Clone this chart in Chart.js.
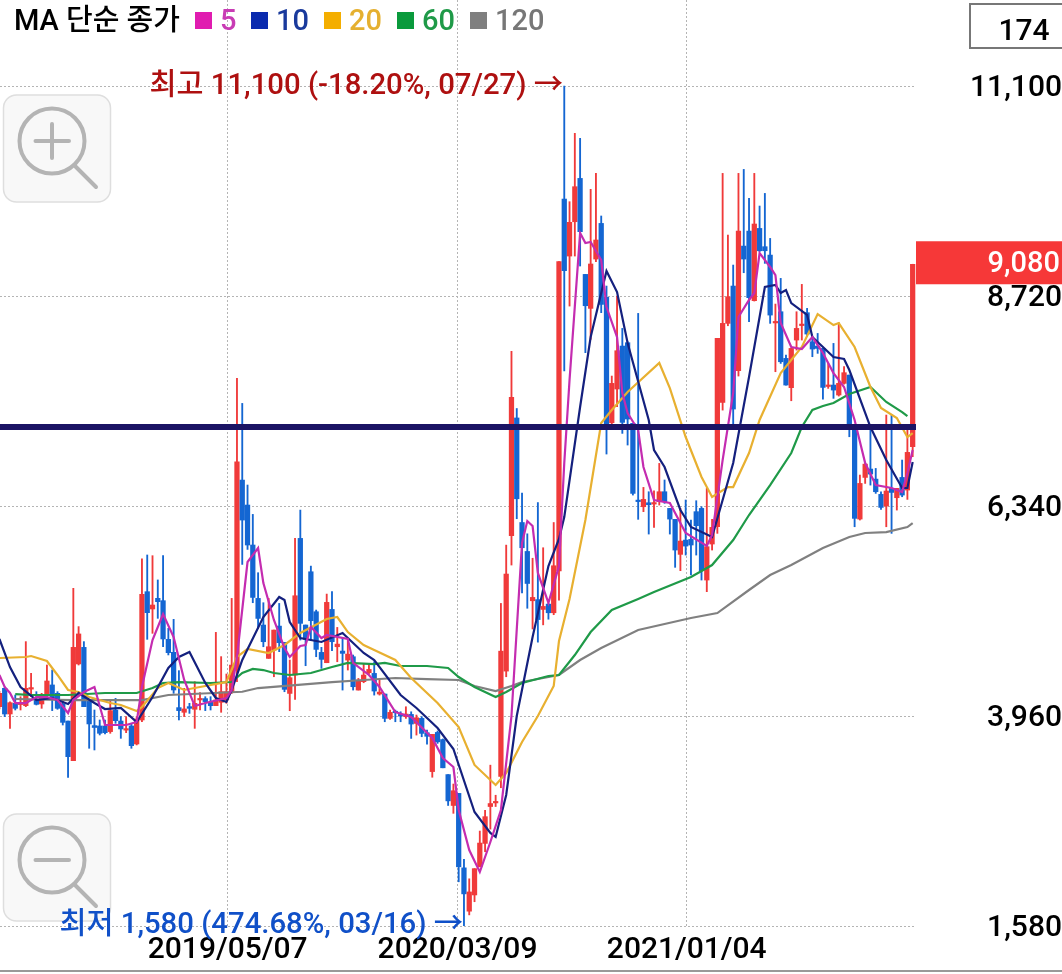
<!DOCTYPE html>
<html lang="ko">
<head>
<meta charset="utf-8">
<title>MA 단순 종가</title>
<script src="https://cdn.jsdelivr.net/npm/chart.js@4/dist/chart.umd.min.js"></script>
<style>
    html, body { margin: 0; padding: 0; background: #fff; }
    canvas { display: block; }
</style>
</head>
<body>
<canvas id="priceChart" width="1062" height="974"></canvas>
<script>
// Price ticks and date ticks
var priceTicks = [1580, 3960, 6340, 8720, 11100];
var dateLabels = ['2019/05/07', '2020/03/09', '2021/01/04'];
var datePositions = [43.24, 86.78, 130.2];

// Candles, index 0 to 173
var opens = [
    4066, 4274, 3983, 4104, 4090, 4077, 4265, 4142, 4096, 4198, 4312, 4217, 4096, 3903, 3454, 4550, 4738, 4142, 3851, 3847,
    3847, 3783, 4028, 3903, 3800, 3847, 3643, 3915, 5369, 5173, 5294, 5267, 4829, 4682, 4055, 4002, 4066, 4036, 4142, 4157,
    4115, 4077, 4115, 4142, 4235, 4481, 6634, 6351, 5898, 5293, 4991, 4613, 4707, 4979, 4794, 4216, 4424, 5973, 4991, 5595,
    5142, 4681, 4564, 5168, 4745, 4696, 4594, 4632, 4254, 4349, 4451, 4443, 4209, 4209, 3933, 4008, 3978, 3952, 3978, 3876,
    3933, 3770, 3330, 3774, 3693, 3296, 2946, 3083, 2239, 1748, 1932, 2251, 2516, 2934, 2975, 3275, 4469, 6004, 7338, 6153,
    5825, 5266, 5279, 5168, 5228, 5130, 5603, 9819, 9173, 9562, 10053, 8965, 8580, 9139, 9543, 8705, 7284, 7666, 8153, 8191,
    7277, 6400, 6332, 6377, 6362, 6389, 6502, 6313, 6189, 5792, 5954, 5962, 6276, 6313, 5501, 5909, 6105, 7514, 8410, 8833,
    7873, 9286, 9456, 8667, 9486, 9279, 9184, 8415, 8542, 8013, 7681, 8221, 8385, 8531, 8202, 8153, 8126, 7695, 7711, 7598,
    7730, 7824, 7208, 6192, 6664, 6759, 6645, 6472, 6340, 6540, 6434, 6664, 6521, 7012
];
var highs = [
    4240, 4290, 4120, 4198, 4179, 4803, 4444, 4236, 4217, 4538, 4482, 4236, 4142, 3903, 5407, 4973, 4803, 4150, 4028, 3915,
    3915, 4142, 4160, 3953, 3953, 3877, 3953, 5740, 5785, 5777, 5502, 5777, 4954, 5056, 4474, 4274, 4104, 4349, 4225, 4179,
    4179, 4908, 4633, 4436, 5293, 7787, 7503, 6578, 6245, 5584, 5244, 5293, 4934, 5236, 4794, 4594, 5973, 6294, 4991, 5659,
    5161, 4738, 5342, 5369, 4964, 4840, 4840, 4651, 4386, 4556, 4556, 4575, 4367, 4209, 4027, 4027, 4008, 4065, 4008, 3971,
    3952, 3800, 3752, 3790, 3700, 3296, 3189, 3083, 2337, 2115, 2230, 2656, 2891, 3403, 3062, 5236, 5897, 8093, 7445, 6486,
    6025, 5748, 6379, 5867, 5236, 6153, 9109, 11100, 9789, 10564, 10507, 8965, 9929, 10110, 9627, 8833, 7813, 8720, 8353, 8202,
    7277, 8523, 6551, 6502, 6513, 6823, 6635, 6313, 6189, 6313, 6408, 6181, 6400, 6332, 6540, 6189, 8240, 10110, 9411, 9071,
    10110, 10155, 9827, 10110, 9740, 9883, 9373, 8629, 8920, 8051, 8126, 8542, 8852, 8580, 8259, 8296, 8126, 7956, 8183, 8417,
    7919, 7824, 7208, 6691, 6823, 7220, 6766, 6502, 7371, 7371, 6540, 6861, 7239, 9080
];
var lows = [
    4040, 3953, 3820, 4028, 4028, 4066, 4179, 4085, 4047, 4179, 4021, 4036, 3858, 3265, 3454, 4538, 4066, 3594, 3575, 3745,
    3756, 3764, 3877, 3707, 3771, 3594, 3632, 3896, 4829, 4897, 5067, 4746, 4652, 4217, 3915, 3953, 3990, 3820, 4028, 4021,
    4028, 4077, 4002, 4104, 4216, 4349, 5678, 5848, 5244, 4953, 4745, 4613, 4405, 4689, 4235, 4020, 4148, 4821, 4530, 4821,
    4632, 4500, 4564, 4700, 4575, 4254, 4481, 4254, 4254, 4337, 4435, 4197, 4197, 3895, 3922, 3895, 3895, 3933, 3706, 3744,
    3725, 3640, 3266, 3650, 3373, 2946, 2857, 2081, 1580, 1706, 1855, 2251, 2422, 2678, 2934, 3147, 4405, 5671, 6196, 5356,
    5181, 4946, 4797, 4993, 5057, 5108, 5274, 7870, 8606, 9173, 9060, 8078, 8229, 9109, 8531, 6929, 7258, 7466, 7163, 7031,
    6464, 6189, 6276, 6022, 6098, 6351, 6370, 6022, 5645, 5607, 5784, 5558, 5784, 5501, 5369, 5841, 6030, 7427, 8383, 7239,
    7813, 8984, 8429, 8663, 9222, 9090, 8410, 7862, 7956, 7711, 7533, 8107, 8221, 8259, 8032, 8070, 7552, 7673, 7560, 7586,
    7722, 7125, 6105, 6181, 6596, 6577, 6483, 6302, 6105, 6030, 6294, 6445, 6415, 6899
];
var closes = [
    4217, 3983, 4111, 4047, 4104, 4274, 4274, 4092, 4198, 4357, 4160, 4047, 3888, 3499, 4738, 4890, 4066, 3870, 3830, 3764,
    3771, 4021, 3907, 3813, 3809, 3624, 3926, 5339, 5131, 5218, 5256, 4833, 4678, 4255, 4021, 4040, 4047, 4104, 4157, 4123,
    4077, 4142, 4236, 4236, 4537, 6842, 6181, 5898, 5304, 5066, 4802, 4745, 4934, 4791, 4262, 4394, 5323, 5010, 4828, 5040,
    4715, 4602, 5248, 4802, 4775, 4670, 4662, 4292, 4367, 4424, 4488, 4243, 4231, 3933, 4001, 3997, 3959, 3982, 3869, 3940,
    3763, 3730, 3752, 3667, 3373, 2998, 3113, 2251, 1944, 1966, 2230, 2520, 2819, 2968, 2985, 4695, 5569, 7573, 6422, 5867,
    5462, 5304, 5053, 5202, 5130, 5663, 9109, 9007, 9555, 9959, 9449, 8610, 9083, 9355, 8625, 7258, 7730, 8100, 7288, 7326,
    6483, 6390, 6415, 6355, 6370, 6502, 6389, 6192, 5841, 5943, 5886, 5898, 6117, 5607, 5879, 6098, 8240, 8410, 8712, 7439,
    9456, 9139, 8701, 9536, 9233, 9233, 8504, 8425, 7975, 7711, 8126, 8353, 8395, 8289, 8119, 8126, 7684, 7705, 7654, 7730,
    7851, 7258, 6200, 6596, 6815, 6702, 6502, 6324, 6510, 6494, 6540, 6464, 6948, 9080
];

// Moving averages, read at the turning points of each line
var ma5X = [0, 1, 2, 3, 5, 7, 9, 11, 13, 14, 16, 18, 20, 24, 26, 27, 29, 31, 33, 35, 37, 39, 43, 44, 45, 47, 49, 50, 52, 54, 55, 57, 58, 59, 61, 62, 66, 67, 70, 72, 75, 78, 82, 84, 86, 87, 89, 91, 93, 95, 97, 99, 100, 101, 102, 104, 106, 107, 108, 110, 111, 112, 114, 115, 117, 118, 119, 121, 122, 124, 127, 130, 134, 135, 137, 139, 140, 142, 143, 144, 146, 147, 148, 150, 152, 154, 156, 158, 160, 162, 164, 166, 169, 171, 172, 173];
var ma5Y = [4425, 4289, 4221, 4107, 4107, 4175, 4175, 4141, 3994, 4141, 4232, 4289, 3858, 3858, 3892, 4289, 4821, 5116, 4855, 4368, 4073, 4107, 4164, 4255, 4629, 5705, 5864, 5467, 5048, 4731, 4629, 4753, 4765, 4969, 4844, 4878, 4833, 4561, 4425, 4289, 4005, 3949, 3711, 3484, 3382, 2895, 2441, 2192, 2532, 2895, 3960, 5921, 6170, 6113, 5581, 5241, 5660, 6827, 7768, 9434, 9321, 9332, 9128, 8595, 8255, 7621, 7394, 7201, 6782, 6408, 6374, 6034, 5887, 6011, 6861, 7621, 8482, 8675, 8754, 9207, 9049, 8958, 8414, 8142, 8119, 8255, 8074, 7847, 7689, 7315, 6827, 6578, 6544, 6499, 6714, 6975];
var ma10X = [0, 2, 4, 7, 10, 13, 15, 18, 20, 23, 26, 29, 32, 34, 36, 39, 41, 43, 44, 46, 50, 53, 54, 55, 57, 61, 65, 69, 71, 76, 79, 83, 86, 90, 93, 94, 96, 98, 101, 104, 106, 107, 110, 112, 115, 117, 119, 123, 124, 126, 129, 131, 135, 139, 142, 145, 147, 148, 149, 150, 153, 154, 158, 160, 161, 165, 168, 171, 172, 173];
var ma10Y = [4833, 4515, 4289, 4141, 4164, 4096, 4221, 4107, 4039, 4051, 3892, 4175, 4504, 4629, 4685, 4334, 4164, 4119, 4255, 4595, 5082, 5309, 5275, 5025, 4844, 4799, 4901, 4674, 4595, 4198, 4051, 3824, 3586, 2872, 2634, 2589, 3065, 3960, 4855, 5660, 5966, 6215, 7462, 8255, 9003, 8765, 8187, 7315, 6975, 6782, 6295, 6102, 5989, 6827, 7802, 8822, 8845, 8754, 8788, 8640, 8505, 8255, 8029, 8006, 7881, 7235, 6861, 6544, 6544, 6839];
var ma20X = [0, 5, 6, 9, 11, 13, 15, 17, 21, 23, 26, 27, 30, 32, 35, 38, 43, 45, 47, 51, 54, 57, 62, 64, 66, 69, 71, 75, 78, 83, 87, 90, 94, 96, 99, 102, 105, 106, 108, 111, 114, 116, 119, 125, 127, 130, 133, 135, 138, 139, 142, 144, 148, 152, 155, 158, 159, 162, 165, 167, 170, 172, 173];
var ma20Y = [4617, 4629, 4640, 4583, 4425, 4255, 4232, 4175, 4107, 4085, 4017, 4062, 4277, 4334, 4255, 4289, 4345, 4629, 4719, 4674, 4765, 4901, 5059, 5082, 4912, 4765, 4708, 4595, 4391, 4107, 3835, 3405, 3178, 3314, 3665, 3960, 4300, 4810, 5286, 6181, 7281, 7428, 7632, 7961, 7677, 7122, 6669, 6442, 6555, 6555, 6941, 7315, 7847, 8142, 8516, 8391, 8414, 8142, 7689, 7451, 7337, 7122, 7167];
var ma60X = [3, 6, 13, 20, 26, 29, 31, 34, 40, 44, 46, 48, 50, 52, 55, 59, 63, 66, 71, 73, 76, 81, 85, 87, 90, 94, 96, 99, 104, 106, 109, 112, 116, 121, 124, 131, 135, 139, 142, 146, 150, 152, 154, 156, 158, 161, 165, 168, 171, 172];
var ma60Y = [4209, 4198, 4198, 4221, 4221, 4277, 4334, 4345, 4334, 4345, 4447, 4493, 4481, 4447, 4425, 4447, 4515, 4561, 4549, 4561, 4527, 4527, 4504, 4402, 4289, 4175, 4232, 4334, 4413, 4425, 4651, 4912, 5161, 5286, 5365, 5535, 5671, 5955, 6238, 6578, 6941, 7235, 7428, 7473, 7507, 7609, 7689, 7519, 7405, 7360];
var ma120X = [3, 14, 27, 32, 45, 46, 49, 56, 63, 69, 75, 81, 87, 90, 94, 97, 99, 106, 110, 114, 121, 131, 136, 142, 146, 150, 156, 161, 164, 168, 172, 173];
var ma120Y = [4153, 4141, 4141, 4198, 4232, 4235, 4277, 4311, 4345, 4368, 4391, 4379, 4368, 4300, 4243, 4300, 4345, 4425, 4595, 4731, 4935, 5071, 5127, 5388, 5558, 5671, 5864, 5989, 6034, 6045, 6102, 6147];

// Level line drawn across the chart
var levelPrice = 7235;
var levelX = [0, 174];

// Legend and labels
var legendTitle = 'MA 단순 종가';
var maNames = ['5', '10', '20', '60', '120'];
var highLabel = '최고 11,100 (-18.20%, 07/27) →';
var lowLabel = '최저 1,580 (474.68%, 03/16) →';
var candleCount = '174';
var lastPrice = 9080;

var UP_COLOR = '#F03A3A';
var DOWN_COLOR = '#1466D2';
var FONT = 'Roboto, "Noto Sans CJK KR", sans-serif';

function pairs(xs, ys) {
    return xs.map(function (x, i) { return { x: x, y: ys[i] }; });
}

function maDataset(xs, ys, color, width) {
    return {
        type: 'line',
        data: pairs(xs, ys),
        borderColor: color,
        borderWidth: width,
        pointRadius: 0,
        tension: 0,
        order: 2
    };
}

var wicks = opens.map(function (o, i) { return { x: i, y: [lows[i], highs[i]] }; });
var bodies = opens.map(function (o, i) { return { x: i, y: [Math.min(o, closes[i]), Math.max(o, closes[i])] }; });
var candleColors = opens.map(function (o, i) { return closes[i] >= o ? UP_COLOR : DOWN_COLOR; });

// Draws the magnifier buttons
function drawZoomButton(ctx, top, plus) {
    var cy = top + 46;
    ctx.save();
    ctx.fillStyle = '#F8F8F8';
    ctx.strokeStyle = '#DEDEDE';
    ctx.lineWidth = 1.5;
    ctx.beginPath();
    ctx.roundRect(3.5, top, 107, 107, 13);
    ctx.fill();
    ctx.stroke();
    ctx.strokeStyle = '#B4B4B4';
    ctx.lineWidth = 4;
    ctx.lineCap = 'round';
    ctx.beginPath();
    ctx.arc(52, cy, 32.5, 0, Math.PI * 2);
    ctx.moveTo(74, cy + 24);
    ctx.lineTo(96, cy + 46);
    ctx.moveTo(35.5, cy);
    ctx.lineTo(69, cy);
    if (plus) {
        ctx.moveTo(52, cy - 17);
        ctx.lineTo(52, cy + 17);
    }
    ctx.stroke();
    ctx.restore();
}

var overlayPlugin = {
    id: 'overlay',
    afterDraw: function (chart) {
        var ctx = chart.ctx;
        var yScale = chart.scales.y;
        var xPos = chart.chartArea.right;

        ctx.save();
        ctx.textBaseline = 'middle';

        // Bottom rule
        ctx.strokeStyle = '#777777';
        ctx.lineWidth = 1.5;
        ctx.beginPath();
        ctx.moveTo(0, 971);
        ctx.lineTo(1062, 971);
        ctx.stroke();

        drawZoomButton(ctx, 95, true);
        drawZoomButton(ctx, 814, false);

        // Legend
        ctx.textAlign = 'left';
        ctx.font = '500 29px ' + FONT;
        ctx.fillStyle = '#000000';
        ctx.fillText(legendTitle, 14, 23);
        var squareX = [195, 251, 324, 397, 470];
        var squareColors = ['#E01CB0', '#0A2AAE', '#F4AE00', '#0A9A3C', '#7F7F7F'];
        var textColors = ['#C83CB4', '#1A3A9C', '#E5B030', '#1F9A48', '#777777'];
        maNames.forEach(function (name, i) {
            ctx.fillStyle = squareColors[i];
            ctx.fillRect(squareX[i], 12, 17, 17);
            ctx.fillStyle = textColors[i];
            ctx.fillText(name, squareX[i] + 25, 23);
        });

        // High and low notes
        ctx.textAlign = 'right';
        ctx.font = '500 29.3px ' + FONT;
        ctx.fillStyle = '#AE1010';
        ctx.fillText(highLabel, 563, yScale.getPixelForValue(11100) + 1);
        ctx.fillStyle = '#1050C8';
        ctx.fillText(lowLabel, 463, yScale.getPixelForValue(1580));

        // Count box
        ctx.fillStyle = '#FFFFFF';
        ctx.strokeStyle = '#777777';
        ctx.lineWidth = 2;
        ctx.beginPath();
        ctx.moveTo(1062, 4);
        ctx.lineTo(970, 4);
        ctx.lineTo(970, 48);
        ctx.lineTo(1062, 48);
        ctx.stroke();
        ctx.fillStyle = '#000000';
        ctx.textAlign = 'center';
        ctx.font = '500 30px ' + FONT;
        ctx.fillText(candleCount, 1024, 32);

        // Last price tag
        var tagY = yScale.getPixelForValue(lastPrice);
        ctx.fillStyle = '#F63838';
        ctx.fillRect(xPos, tagY - 23, 1062 - xPos, 43);
        ctx.fillStyle = '#FFFFFF';
        ctx.textAlign = 'right';
        ctx.font = '500 29px ' + FONT;
        ctx.fillText(lastPrice.toLocaleString('en-US'), 1060, tagY);

        ctx.restore();
    }
};

new Chart(document.getElementById('priceChart'), {
    type: 'bar',
    plugins: [overlayPlugin],
    data: {
        datasets: [
            {
                data: [{ x: levelX[0], y: levelPrice }, { x: levelX[1], y: levelPrice }],
                type: 'line',
                borderColor: '#1B1464',
                borderWidth: 6,
                pointRadius: 0,
                order: 1
            },
            maDataset(ma5X, ma5Y, '#C42CB0', 2.2),
            maDataset(ma10X, ma10Y, '#14207E', 2.2),
            maDataset(ma20X, ma20Y, '#E8B030', 2.2),
            maDataset(ma60X, ma60Y, '#1F9A48', 2.2),
            maDataset(ma120X, ma120Y, '#808080', 2.2),
            {
                data: bodies,
                backgroundColor: candleColors,
                barPercentage: 1,
                categoryPercentage: 1,
                maxBarThickness: 4.6,
                minBarLength: 1.5,
                grouped: false,
                order: 3
            },
            {
                data: wicks,
                backgroundColor: candleColors,
                barPercentage: 1,
                categoryPercentage: 1,
                maxBarThickness: 1.2,
                grouped: false,
                order: 4
            }
        ]
    },
    options: {
        responsive: false,
        animation: false,
        devicePixelRatio: 1,
        events: [],
        layout: { padding: 0 },
        plugins: {
            legend: { display: false },
            tooltip: { enabled: false }
        },
        scales: {
            x: {
                type: 'linear',
                min: 0.11,
                max: 173.63,
                offset: false,
                grid: { offset: false, color: '#B4B4B4', lineWidth: 1, drawTicks: false },
                border: { display: false, dash: [2, 2] },
                ticks: {
                    autoSkip: false,
                    maxRotation: 0,
                    padding: 6,
                    color: '#000000',
                    font: { family: FONT, size: 30, weight: 500 },
                    callback: function (value, index) { return dateLabels[index]; }
                },
                afterBuildTicks: function (scale) {
                    scale.ticks = datePositions.map(function (v) { return { value: v }; });
                },
                afterFit: function (scale) {
                    scale.height = 48;
                    scale.paddingLeft = 0;
                    scale.paddingRight = 0;
                }
            },
            y: {
                type: 'linear',
                position: 'right',
                min: 1580,
                max: 12075,
                grid: { color: '#B4B4B4', lineWidth: 1, drawTicks: false },
                border: { display: false, dash: [2, 2] },
                ticks: {
                    crossAlign: 'far',
                    padding: 2,
                    labelOffset: 2,
                    color: '#000000',
                    font: { family: FONT, size: 30, weight: 500 },
                    callback: function (value) { return value.toLocaleString('en-US'); }
                },
                afterBuildTicks: function (scale) {
                    scale.ticks = priceTicks.map(function (v) { return { value: v }; });
                },
                afterFit: function (scale) {
                    scale.width = 146;
                    scale.paddingTop = 0;
                    scale.paddingBottom = 0;
                }
            }
        }
    }
});
</script>
</body>
</html>
